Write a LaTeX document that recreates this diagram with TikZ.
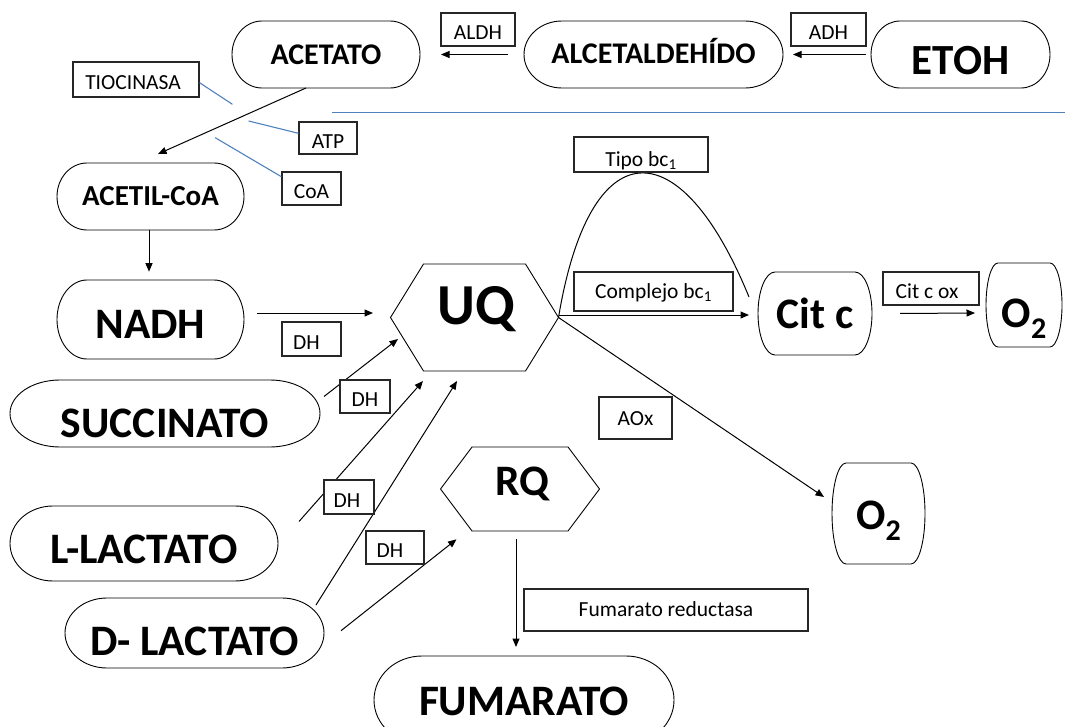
\documentclass[tikz,border=0pt]{standalone}
\usepackage{fontspec}
\setmainfont{Carlito}
\usetikzlibrary{arrows.meta,calc}
\definecolor{lineblue}{RGB}{79,129,189}
\newcommand\fBig{\fontsize{43.5}{47}\selectfont\bfseries}
\newcommand\fMid{\fontsize{30}{34}\selectfont\bfseries}
\newcommand\fSm{\fontsize{29}{32}\selectfont\bfseries}
\newcommand\fEt{\fontsize{43}{46}\selectfont\bfseries}
\newcommand\fUQ{\fontsize{58}{62}\selectfont\bfseries}
\newcommand\lfont{\fontsize{21.5}{24}\selectfont}
\newcommand\oxsub{O\raisebox{-0.26em}{\fontsize{30}{31}\selectfont 2}}
\tikzset{
  shp/.style={draw=black, line width=0.9pt},
  labbox/.style={draw=black!85, line width=1.1pt, fill=white, inner sep=0pt},
  arr/.style={draw=black, line width=1pt, -{Triangle[length=8.5pt,width=7pt]}},
  plainline/.style={draw=black, line width=1pt},
  blueline/.style={draw=lineblue, line width=1.1pt},
}
% name, cx, cy, half width, half height, end radius, baseline y, text
\newcommand\stad[8]{%
  \node[inner sep=0pt, outer sep=0pt, minimum width={2*#4pt}, minimum height={2*#5pt}] (#1) at (#2,#3) {};
  \draw[shp, fill=white] ([xshift=#6pt]#1.north west) -- ([xshift=-#6pt]#1.north east)
    arc[start angle=90, end angle=-90, x radius=#6pt, y radius=#5pt]
    -- ([xshift=#6pt]#1.south west)
    arc[start angle=270, end angle=90, x radius=#6pt, y radius=#5pt] -- cycle;
  \node[anchor=base, inner sep=0pt] (#1t) at (#2,#7) {#8};}
% name, cx, cy, half width, half height, inset, baseline y, text
\newcommand\hexa[8]{%
  \node[inner sep=0pt, outer sep=0pt, minimum width={2*#4pt}, minimum height={2*#5pt}] (#1) at (#2,#3) {};
  \draw[shp, fill=white] (#1.west) -- ([xshift=#6pt]#1.north west) -- ([xshift=-#6pt]#1.north east)
    -- (#1.east) -- ([xshift=-#6pt]#1.south east) -- ([xshift=#6pt]#1.south west) -- cycle;
  \node[anchor=base, inner sep=0pt] (#1t) at ({#2+2},#7) {#8};}
% name, cx, cy, w, h, text dx, baseline dy, text
\newcommand\lab[8]{%
  \node[labbox, minimum width=#4pt, minimum height=#5pt] (#1) at (#2,#3) {};
  \node[anchor=base, inner sep=0pt, font=\lfont] (#1t) at ({#2+#6},{#3+#7}) {#8};}
\begin{document}
\begin{tikzpicture}[x=1pt,y=-1pt]
\useasboundingbox (0,0) rectangle (1065,727);
\clip (0,0) rectangle (1065,727);

% ---- shapes
\stad{acetato}{326}{54.5}{94}{33.5}{30}{64.3}{\fMid ACETATO}
\stad{alcet}{653.5}{54.5}{129.5}{33.5}{38}{64}{\fMid ALCETALDEHÍDO}
\stad{etoh}{960.5}{54.5}{89.5}{33.5}{29}{75}{\fEt ETOH}
\stad{acetil}{150.5}{196.5}{93.5}{33.5}{30}{206}{\fSm ACETIL-CoA}
\stad{nadh}{150.5}{319.5}{93.5}{39.5}{30}{338}{\fBig NADH}
\stad{succ}{165}{413.5}{155}{33.5}{50}{437}{\fBig SUCCINATO}
\stad{llact}{144}{543.5}{134}{37.5}{43}{563}{\fBig L-LACTATO}
\stad{dlact}{194.5}{633}{129.5}{35}{42}{655}{\fBig D- LACTATO}
\stad{fum}{524}{700}{150}{44}{48}{715}{\fBig FUMARATO}
\stad{citc}{815}{313.5}{57}{41.5}{17}{328}{\fBig Cit c}
\stad{otop}{1024}{305}{38}{42}{12}{327}{\fBig \oxsub}
\stad{obot}{878.5}{513.5}{46.5}{50.5}{14}{529}{\fBig \oxsub}
\hexa{uq}{474.5}{317.5}{84}{53.5}{33}{324}{\fUQ UQ}
\hexa{rq}{520}{489}{79.5}{42}{31.5}{495}{\fBig RQ}

% ---- connectors
\draw[arr] ([xshift=-20pt]acetato.south) -- ([xshift=7.5pt,yshift=9pt]acetil.north);
\draw[arr] ([xshift=-16pt]alcet.west) -- ([xshift=21pt]acetato.east);
\draw[arr] ([xshift=-5pt]etoh.west) -- ([xshift=10pt]alcet.east);
\draw[arr] ([xshift=-1.5pt]acetil.south) -- ([xshift=-1.5pt,yshift=8.3pt]nadh.north);
\draw[arr] ([xshift=13pt,yshift=6.5pt]nadh.east) -- ([xshift=-17.5pt,yshift=4.5pt]uq.west);
\draw[arr] ([xshift=4pt,yshift=17pt]succ.east) -- ([xshift=7.5pt,yshift=-21.5pt]uq.west);
\draw[arr] ([xshift=21pt,yshift=22pt]llact.east) -- ([xshift=32.5pt,yshift=-10pt]uq.south west);
\draw[arr] ([xshift=-8pt,yshift=28pt]dlact.east) -- ([xshift=-17.5pt,yshift=-10pt]uq.south);
\draw[arr] ([xshift=17pt,yshift=2.3pt]dlact.east) -- ([xshift=16pt,yshift=-8.3pt]rq.south west);
\draw[arr] ([xshift=-4pt,yshift=-8pt]rq.south) -- ([xshift=-8pt,yshift=9pt]fum.north);
\draw[arr] ([yshift=2.5pt]uq.east) -- ([xshift=-9pt,yshift=-1.5pt]citc.west);
\draw[plainline] (uq.east) .. controls (590,128.3) and (680,128.3) .. ([xshift=-9pt,yshift=16.5pt]citc.west);
\draw[arr] ([xshift=28pt]citc.east) -- ([xshift=-11pt,yshift=-8pt]otop.west);
\draw[arr] (uq.east) -- ([xshift=-8pt,yshift=16.5pt]obot.west);

% ---- labels
\lab{aldh}{478}{29.5}{74}{33}{0}{10}{ALDH}
\lab{adh}{828.5}{29.5}{75}{33}{0}{10}{ADH}
\lab{tio}{136}{79.5}{126}{35}{-3}{9.8}{TIOCINASA}
\lab{atp}{328}{138}{58}{32}{0}{10.3}{ATP}
\lab{coa}{311.5}{188.5}{59}{33}{0}{9.8}{CoA}
\lab{tipo}{641}{154.5}{134}{35}{0}{12}{Tipo bc\textsubscript{1}}
\lab{comp}{653.5}{291.5}{159}{39}{0}{6.8}{Complejo bc\textsubscript{1}}
\lab{citcox}{931}{288.5}{96}{33}{-4}{9.8}{Cit c ox}
\lab{aox}{635.5}{418}{73}{42}{0}{7}{AOx}
\lab{dha}{311.5}{339}{59}{34}{-5}{10}{DH}
\lab{dhb}{365}{396.5}{50}{33}{0}{10}{DH}
\lab{dhc}{349}{497}{50}{34}{-2}{10}{DH}
\lab{dhd}{395}{547.5}{58}{33}{-5}{10}{DH}
\lab{fr}{666}{610}{284}{42}{0}{6}{Fumarato reductasa}

% ---- blue lines
\coordinate (bla) at (332,112.7);
\coordinate (blb) at (1065,112.7);
\coordinate (blc) at (232.4,104.3);
\coordinate (bld) at (248.6,121);
\coordinate (ble) at (215.2,137.7);
\draw[blueline] (bla) -- (blb);
\draw[blueline] ([yshift=-3.2pt]tio.east) -- (blc);
\draw[blueline] (bld) -- ([yshift=4.7pt]atp.west);
\draw[blueline] (ble) -- ([yshift=-5.3pt]coa.north west);
\end{tikzpicture}
\end{document}
